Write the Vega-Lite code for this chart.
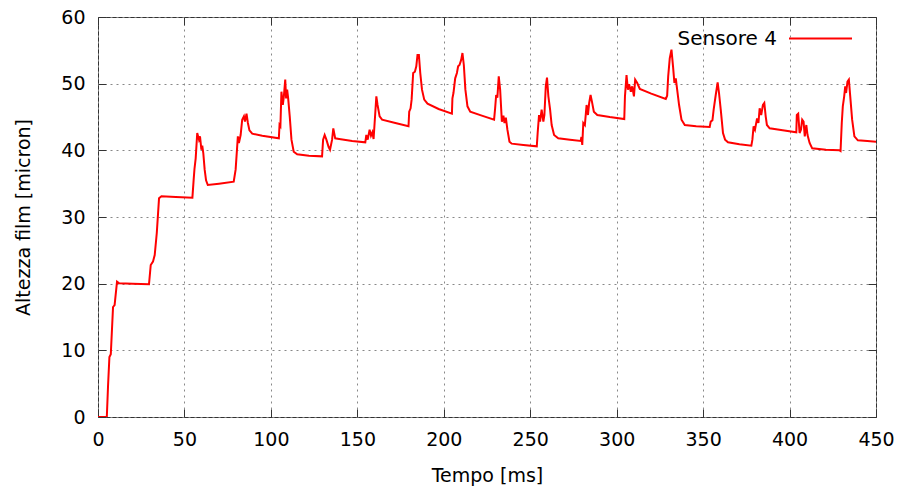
{
  "$schema": "https://vega.github.io/schema/vega-lite/v6.json",
  "autosize": "none",
  "width": 778,
  "height": 400,
  "padding": {"left": 98, "top": 17, "right": 25, "bottom": 74},
  "background": "white",
  "config": {
    "font": "DejaVu Sans",
    "view": {"stroke": "#333333", "strokeWidth": 1},
    "axis": {
      "labelFont": "DejaVu Sans", "titleFont": "DejaVu Sans",
      "labelFontSize": 19, "titleFontSize": 19, "titleFontWeight": "normal",
      "labelColor": "#000000", "titleColor": "#000000", "labelFlush": false,
      "gridColor": "#888888", "gridDash": [2, 4], "gridWidth": 1, "gridOpacity": 1,
      "domain": false, "tickColor": "#333333", "tickSize": -8, "tickWidth": 1
    }
  },
  "data": {"values": [
    {"t":0,"h":0},{"t":5.1,"h":0},{"t":5.8,"h":4.6},{"t":6.6,"h":9.0},{"t":7.4,"h":9.4},{"t":8.7,"h":16.5},{"t":9.6,"h":16.8},{"t":11.0,"h":20.3},{"t":12.2,"h":20.05},{"t":20,"h":20.0},{"t":29.5,"h":19.9},
    {"t":30.5,"h":22.8},{"t":31.8,"h":23.3},{"t":32.8,"h":24.3},{"t":34.0,"h":27.6},{"t":35.3,"h":32.8},{"t":36.7,"h":33.1},{"t":45,"h":33.0},{"t":54.6,"h":32.9},
    {"t":55.3,"h":35.5},{"t":55.8,"h":37.2},{"t":56.5,"h":38.8},{"t":57.4,"h":42.6},{"t":58.4,"h":41.6},{"t":59.0,"h":42.1},{"t":59.8,"h":40.1},{"t":60.3,"h":40.7},{"t":60.9,"h":39.6},{"t":61.7,"h":37.1},{"t":62.5,"h":35.5},{"t":63.5,"h":34.8},{"t":70,"h":35.0},{"t":78.5,"h":35.3},
    {"t":79.6,"h":37.1},{"t":80.9,"h":42.1},{"t":81.5,"h":41.1},{"t":82.5,"h":42.3},{"t":83.4,"h":44.6},{"t":84.4,"h":45.1},{"t":85.0,"h":44.3},{"t":85.9,"h":45.5},{"t":86.7,"h":44.1},{"t":87.6,"h":43.0},{"t":89.2,"h":42.5},{"t":95,"h":42.2},{"t":104.6,"h":41.8},
    {"t":105.0,"h":43.8},{"t":105.5,"h":43.6},{"t":106.1,"h":48.8},{"t":106.9,"h":46.8},{"t":107.5,"h":48.1},{"t":108.3,"h":50.6},{"t":108.8,"h":47.8},{"t":109.4,"h":49.1},{"t":110.0,"h":47.8},{"t":110.9,"h":45.1},{"t":111.9,"h":41.6},{"t":113.2,"h":39.8},{"t":115.2,"h":39.4},{"t":122,"h":39.2},{"t":129.6,"h":39.1},
    {"t":130.2,"h":41.6},{"t":131.1,"h":42.3},{"t":132.1,"h":41.6},{"t":133.4,"h":40.5},{"t":134.2,"h":40.1},{"t":135.4,"h":41.6},{"t":136.1,"h":43.3},{"t":137.2,"h":41.8},{"t":139.5,"h":41.7},{"t":147,"h":41.4},{"t":154.6,"h":41.2},
    {"t":155.2,"h":42.3},{"t":156.0,"h":41.6},{"t":157.1,"h":43.1},{"t":157.9,"h":42.2},{"t":158.7,"h":42.7},{"t":159.4,"h":41.7},{"t":160.0,"h":44.1},{"t":161.0,"h":48.1},{"t":161.7,"h":46.8},{"t":162.9,"h":45.1},{"t":164.3,"h":44.6},{"t":172,"h":44.1},{"t":179.6,"h":43.6},
    {"t":180.0,"h":45.8},{"t":180.8,"h":46.3},{"t":181.4,"h":47.6},{"t":182.3,"h":51.6},{"t":183.3,"h":51.8},{"t":184.1,"h":52.6},{"t":184.8,"h":54.3},{"t":185.6,"h":54.3},{"t":186.4,"h":51.6},{"t":187.4,"h":49.1},{"t":188.7,"h":47.6},{"t":190.6,"h":47.0},{"t":197,"h":46.2},{"t":204.7,"h":45.5},
    {"t":205.0,"h":47.8},{"t":205.6,"h":48.6},{"t":206.6,"h":50.8},{"t":207.6,"h":51.6},{"t":208.3,"h":52.6},{"t":209.1,"h":52.8},{"t":210.1,"h":53.6},{"t":210.8,"h":54.6},{"t":211.6,"h":52.8},{"t":212.5,"h":49.1},{"t":213.7,"h":46.6},{"t":215.3,"h":45.8},{"t":222,"h":45.2},{"t":229.1,"h":44.6},
    {"t":229.7,"h":46.3},{"t":230.3,"h":48.3},{"t":231.0,"h":47.9},{"t":231.8,"h":51.1},{"t":232.6,"h":49.1},{"t":233.6,"h":44.3},{"t":234.5,"h":45.2},{"t":235.1,"h":44.1},{"t":235.9,"h":44.9},{"t":236.8,"h":43.1},{"t":238.0,"h":41.3},{"t":239.3,"h":41.0},{"t":246,"h":40.8},{"t":253.8,"h":40.6},
    {"t":254.3,"h":42.6},{"t":255.1,"h":45.3},{"t":255.7,"h":44.3},{"t":256.6,"h":46.1},{"t":257.6,"h":44.3},{"t":258.2,"h":45.3},{"t":259.0,"h":49.6},{"t":259.7,"h":50.9},{"t":260.5,"h":48.1},{"t":261.5,"h":46.1},{"t":262.4,"h":43.8},{"t":263.8,"h":42.3},{"t":266.2,"h":41.8},{"t":273,"h":41.6},{"t":279.2,"h":41.4},
    {"t":279.6,"h":42.0},{"t":280.1,"h":40.8},{"t":280.7,"h":44.1},{"t":281.6,"h":43.8},{"t":282.6,"h":46.8},{"t":283.4,"h":45.3},{"t":284.1,"h":47.1},{"t":284.9,"h":48.3},{"t":285.7,"h":47.3},{"t":286.8,"h":45.8},{"t":288.8,"h":45.3},{"t":296,"h":45.0},{"t":304.4,"h":44.7},
    {"t":304.8,"h":48.1},{"t":305.7,"h":51.3},{"t":306.5,"h":49.1},{"t":307.2,"h":49.9},{"t":308.2,"h":48.8},{"t":309.0,"h":49.6},{"t":310.0,"h":48.1},{"t":310.7,"h":50.6},{"t":311.9,"h":50.1},{"t":313.4,"h":49.2},{"t":320,"h":48.5},{"t":328.4,"h":47.7},
    {"t":329.2,"h":48.2},{"t":329.8,"h":51.1},{"t":330.7,"h":53.8},{"t":331.7,"h":55.1},{"t":332.6,"h":52.6},{"t":333.4,"h":50.1},{"t":334.2,"h":50.8},{"t":334.9,"h":49.3},{"t":336.1,"h":46.8},{"t":337.5,"h":44.6},{"t":339.4,"h":43.8},{"t":346,"h":43.6},{"t":353.8,"h":43.5},
    {"t":354.4,"h":44.3},{"t":355.4,"h":44.5},{"t":356.1,"h":46.1},{"t":357.3,"h":48.3},{"t":358.4,"h":50.2},{"t":359.2,"h":48.6},{"t":360.2,"h":46.1},{"t":361.5,"h":42.6},{"t":362.7,"h":41.6},{"t":364.4,"h":41.2},{"t":371,"h":40.9},{"t":377.9,"h":40.7},
    {"t":378.5,"h":41.6},{"t":379.2,"h":43.6},{"t":380.0,"h":43.1},{"t":381.2,"h":44.8},{"t":382.0,"h":44.1},{"t":382.7,"h":46.3},{"t":383.6,"h":45.3},{"t":384.6,"h":46.8},{"t":385.4,"h":47.1},{"t":386.2,"h":45.1},{"t":386.9,"h":43.8},{"t":388.5,"h":43.3},{"t":396,"h":43.0},{"t":403.9,"h":42.7},
    {"t":404.2,"h":45.3},{"t":405.0,"h":45.5},{"t":405.8,"h":42.6},{"t":406.6,"h":43.1},{"t":407.3,"h":44.6},{"t":408.1,"h":44.3},{"t":408.8,"h":42.1},{"t":409.7,"h":43.8},{"t":410.4,"h":42.3},{"t":411.6,"h":41.1},{"t":413.1,"h":40.3},{"t":421,"h":40.1},{"t":428.9,"h":40.0},{"t":429.5,"h":39.9},
    {"t":430.2,"h":44.1},{"t":430.8,"h":46.6},{"t":431.6,"h":48.1},{"t":432.2,"h":49.6},{"t":432.7,"h":48.6},{"t":433.5,"h":50.3},{"t":434.3,"h":50.6},{"t":435.1,"h":48.1},{"t":436.2,"h":44.6},{"t":437.5,"h":42.1},{"t":439.5,"h":41.5},{"t":445,"h":41.4},{"t":450,"h":41.3}
  ]},
  "layer": [
    {
      "mark": {"type": "line", "strokeWidth": 2, "interpolate": "linear", "clip": true},
      "encoding": {
        "x": {
          "field": "t", "type": "quantitative",
          "scale": {"domain": [0, 450], "nice": false, "zero": false},
          "axis": {"title": "Tempo [ms]", "values": [0,50,100,150,200,250,300,350,400,450], "labelPadding": 21, "titlePadding": 17, "grid": true}
        },
        "y": {
          "field": "h", "type": "quantitative",
          "scale": {"domain": [0, 60], "nice": false, "zero": false},
          "axis": {"title": "Altezza film [micron]", "values": [0,10,20,30,40,50,60], "labelPadding": 21, "titlePadding": 27, "grid": true}
        },
        "color": {
          "datum": "Sensore 4",
          "scale": {"range": ["#ff0000"]},
          "legend": {
            "title": null, "orient": "none", "legendX": 690, "legendY": -11,
            "symbolType": "stroke", "symbolSize": 3969, "symbolStrokeWidth": 2,
            "labelFontSize": 20, "labelFont": "DejaVu Sans", "labelColor": "#000000",
            "labelAlign": "right", "labelOffset": -76, "padding": 0
          }
        }
      }
    },
    {
      "mark": {"type": "line", "opacity": 0, "clip": true},
      "encoding": {
        "x": {
          "field": "t", "type": "quantitative",
          "axis": {"orient": "top", "title": null, "labels": false, "grid": false, "values": [0,50,100,150,200,250,300,350,400,450]}
        },
        "y": {
          "field": "h", "type": "quantitative",
          "axis": {"orient": "right", "title": null, "labels": false, "grid": false, "values": [0,10,20,30,40,50,60]}
        }
      }
    }
  ],
  "resolve": {"axis": {"x": "independent", "y": "independent"}}
}
